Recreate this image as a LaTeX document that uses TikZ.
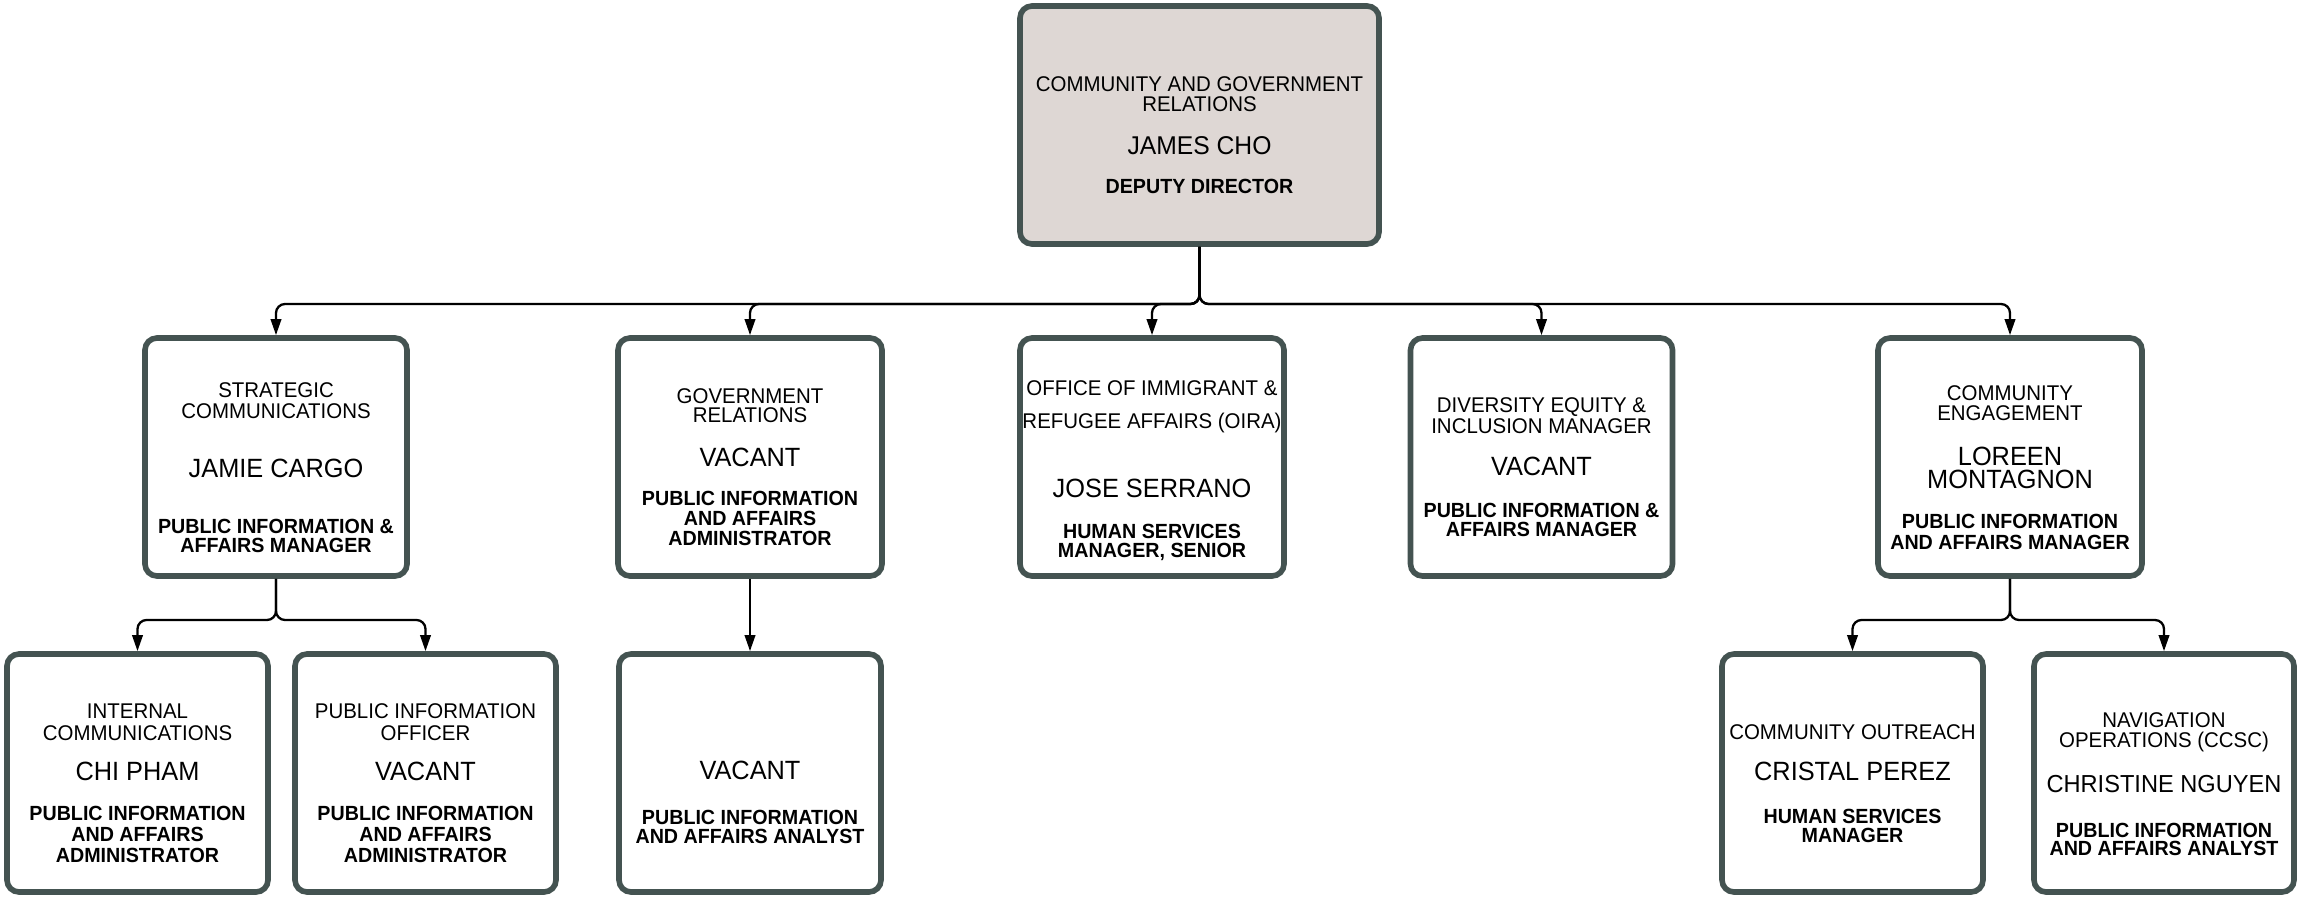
\documentclass[tikz,border=0pt]{standalone}
\usepackage{fontspec}
\setmainfont[FakeStretch=0.96]{Liberation Sans}
\usetikzlibrary{arrows.meta}
\definecolor{bord}{RGB}{68,83,81}
\definecolor{topfill}{RGB}{222,215,212}
\tikzset{
 box/.style={draw=bord, line width=2.8pt, rounded corners=6pt, fill=white, minimum width=131pt, minimum height=119pt, inner sep=0pt},
 dept/.style={font=\fontsize{10.65}{12}\selectfont, inner sep=0pt},
 pname/.style={font=\fontsize{13.2}{14}\selectfont, inner sep=0pt},
 ptitle/.style={font=\bfseries\fontsize{10.25}{11}\selectfont, inner sep=0pt},
 conn/.style={line width=1.15pt, rounded corners=4.5pt, -{Triangle[length=8pt,width=5.2pt]}},
}
\newcommand\txl[5]{\node[#2,anchor=base] (#1) at (#3,#4) {#5};}
\begin{document}
\begin{tikzpicture}[x=0.5pt,y=-0.5pt]
\useasboundingbox (0,0) rectangle (2298,899);
% boxes
\node[box, fill=topfill, minimum width=179.5pt] (top) at (1199.5,125) {};
\node[box] (strat) at (276,457) {};
\node[box, minimum width=132pt] (gov) at (750,457) {};
\node[box, minimum width=132pt] (oira) at (1152,457) {};
\node[box] (div) at (1541.5,457) {};
\node[box, minimum width=132pt] (ce) at (2010,457) {};
\node[box, minimum width=130.5pt] (ic) at (137.5,773) {};
\node[box, minimum width=130.5pt] (pio) at (425.5,773) {};
\node[box] (an) at (750,773) {};
\node[box, minimum width=130.5pt] (cp) at (1852.5,773) {};
\node[box, minimum width=130pt] (nav) at (2164,773) {};
% junctions
\coordinate (j1) at (1199.5,304);
\coordinate (j2) at (276,620);
\coordinate (j3) at (2010,620);
% connectors
\draw[conn] (top.south) -- (j1) -| (strat.north);
\draw[conn] (top.south) -- (j1) -| (gov.north);
\draw[conn] (top.south) -- (j1) -| (oira.north);
\draw[conn] (top.south) -- (j1) -| (div.north);
\draw[conn] (top.south) -- (j1) -| (ce.north);
\draw[conn] (strat.south) -- (j2) -| (ic.north);
\draw[conn] (strat.south) -- (j2) -| (pio.north);
\draw[conn] (gov.south) -- (an.north);
\draw[conn] (ce.south) -- (j3) -| (cp.north);
\draw[conn] (ce.south) -- (j3) -| (nav.north);
% top
\txl{top-d1}{dept}{1199.5}{92}{COMMUNITY AND GOVERNMENT}
\txl{top-d2}{dept}{1199.5}{112}{RELATIONS}
\txl{top-n}{pname,font=\fontsize{12.85}{14}\selectfont}{1199.5}{155}{JAMES CHO}
\txl{top-t}{ptitle}{1199.5}{193}{DEPUTY DIRECTOR}
% strategic
\txl{strat-d1}{dept}{276}{397}{STRATEGIC}
\txl{strat-d2}{dept}{276}{418}{COMMUNICATIONS}
\txl{strat-n}{pname}{276}{477}{JAMIE CARGO}
\txl{strat-t1}{ptitle}{276}{533}{PUBLIC INFORMATION \&}
\txl{strat-t2}{ptitle}{276}{552}{AFFAIRS MANAGER}
% government
\txl{gov-d1}{dept}{750}{403}{GOVERNMENT}
\txl{gov-d2}{dept}{750}{422}{RELATIONS}
\txl{gov-n}{pname}{750}{466}{VACANT}
\txl{gov-t1}{ptitle}{750}{505}{PUBLIC INFORMATION}
\txl{gov-t2}{ptitle}{750}{525}{AND AFFAIRS}
\txl{gov-t3}{ptitle}{750}{545}{ADMINISTRATOR}
% oira
\txl{oira-d1}{dept}{1152}{395}{OFFICE OF IMMIGRANT \&}
\txl{oira-d2}{dept}{1152}{428}{REFUGEE AFFAIRS (OIRA)}
\txl{oira-n}{pname}{1152}{497}{JOSE SERRANO}
\txl{oira-t1}{ptitle}{1152}{538}{HUMAN SERVICES}
\txl{oira-t2}{ptitle}{1152}{557}{MANAGER, SENIOR}
% diversity
\txl{div-d1}{dept}{1541.5}{412}{DIVERSITY EQUITY \&}
\txl{div-d2}{dept}{1541.5}{433}{INCLUSION MANAGER}
\txl{div-n}{pname}{1541.5}{475}{VACANT}
\txl{div-t1}{ptitle}{1541.5}{517}{PUBLIC INFORMATION \&}
\txl{div-t2}{ptitle}{1541.5}{536}{AFFAIRS MANAGER}
% community engagement
\txl{ce-d1}{dept}{2010}{400}{COMMUNITY}
\txl{ce-d2}{dept}{2010}{420}{ENGAGEMENT}
\txl{ce-n1}{pname}{2010}{465}{LOREEN}
\txl{ce-n2}{pname}{2010}{488}{MONTAGNON}
\txl{ce-t1}{ptitle}{2010}{528}{PUBLIC INFORMATION}
\txl{ce-t2}{ptitle}{2010}{549}{AND AFFAIRS MANAGER}
% internal communications
\txl{ic-d1}{dept}{137.5}{718}{INTERNAL}
\txl{ic-d2}{dept}{137.5}{740}{COMMUNICATIONS}
\txl{ic-n}{pname}{137.5}{780}{CHI PHAM}
\txl{ic-t1}{ptitle}{137.5}{820}{PUBLIC INFORMATION}
\txl{ic-t2}{ptitle}{137.5}{841}{AND AFFAIRS}
\txl{ic-t3}{ptitle}{137.5}{862}{ADMINISTRATOR}
% public information officer
\txl{pio-d1}{dept}{425.5}{718}{PUBLIC INFORMATION}
\txl{pio-d2}{dept}{425.5}{740}{OFFICER}
\txl{pio-n}{pname}{425.5}{780}{VACANT}
\txl{pio-t1}{ptitle}{425.5}{820}{PUBLIC INFORMATION}
\txl{pio-t2}{ptitle}{425.5}{841}{AND AFFAIRS}
\txl{pio-t3}{ptitle}{425.5}{862}{ADMINISTRATOR}
% analyst
\txl{an-n}{pname}{750}{779}{VACANT}
\txl{an-t1}{ptitle}{750}{824}{PUBLIC INFORMATION}
\txl{an-t2}{ptitle}{750}{843}{AND AFFAIRS ANALYST}
% community outreach
\txl{cp-d1}{dept}{1852.5}{739}{COMMUNITY OUTREACH}
\txl{cp-n}{pname}{1852.5}{780}{CRISTAL PEREZ}
\txl{cp-t1}{ptitle}{1852.5}{823}{HUMAN SERVICES}
\txl{cp-t2}{ptitle}{1852.5}{842}{MANAGER}
% navigation
\txl{nav-d1}{dept}{2164}{727}{NAVIGATION}
\txl{nav-d2}{dept}{2164}{747}{OPERATIONS (CCSC)}
\txl{nav-n}{pname,font=\fontsize{12.3}{14}\selectfont}{2164}{792}{CHRISTINE NGUYEN}
\txl{nav-t1}{ptitle}{2164}{837}{PUBLIC INFORMATION}
\txl{nav-t2}{ptitle}{2164}{855}{AND AFFAIRS ANALYST}
\end{tikzpicture}
\end{document}
